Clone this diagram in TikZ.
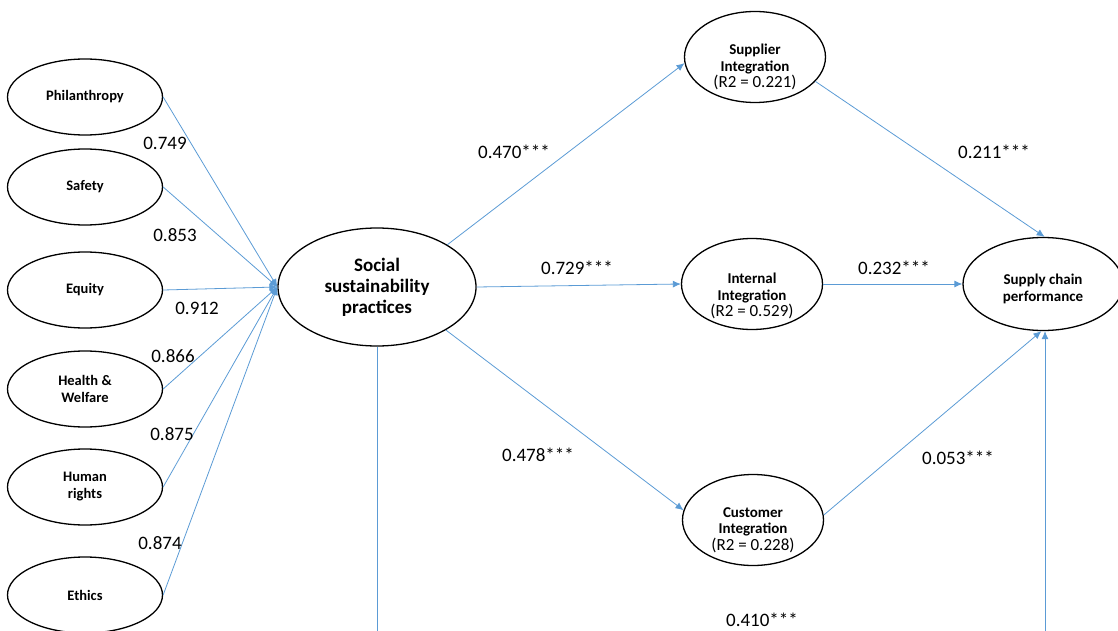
\documentclass[tikz,border=0pt]{standalone}
\usepackage{fontspec}
\setmainfont{Carlito}
\usetikzlibrary{shapes.geometric,arrows.meta}
\definecolor{5b9bd5}{HTML}{5B9BD5}
\begin{document}
\begin{tikzpicture}[x=1pt,y=-1pt,>={Latex[length=8pt,width=7pt]},
    lat/.style={draw,line width=1.3pt,ellipse,inner sep=0,minimum width=155pt,minimum height=76pt,align=center,font=\fontsize{14.5}{17}\selectfont\bfseries},
    med/.style={lat,minimum width=141pt,minimum height=91pt},
    medtext/.style={align=center,inner sep=0,font=\fontsize{15}{16.5}\selectfont\bfseries},
    link/.style={draw=5b9bd5,line width=.8pt},
    coef/.style={font=\fontsize{19}{21}\selectfont}]
    \useasboundingbox(0,0)rectangle(1118,631);
    \newcommand{\rsq}[1]{\\{\mdseries\fontsize{17}{18}\selectfont(R2 = #1)}}
    % first-order constructs
    \node[lat](phil)at(85,97){Philanthropy};
    \node[lat](safe)at(85,187){Safety};
    \node[lat](equi)at(85,290){Equity};
    \node[lat](heal)at(85,389){Health \&\\Welfare};
    \node[lat](huma)at(85,487){Human\\rights};
    \node[lat](ethi)at(85,595){Ethics};
    \node[lat,minimum width=198pt,minimum height=118pt,font=\fontsize{19}{21}\selectfont\bfseries](soc)at(377,287){Social\\sustainability\\practices};
    \node[med](sup)at(755,57){};
    \node[med](int)at(752,284){};
    \node[med](cus)at(753,520){};
    \node[lat,minimum width=160pt,minimum height=93pt](scp)at(1043,284){};
    \node[medtext](supt)at([yshift=-10pt]sup.center){Supplier\\Integration\rsq{0.221}};
    \node[medtext](intt)at([yshift=-12pt]int.center){Internal\\Integration\rsq{0.529}};
    \node[medtext](cust)at([yshift=-10pt]cus.center){Customer\\Integration\rsq{0.228}};
    \node[medtext](scpt)at([yshift=-5pt]scp.center){Supply chain\\performance};
    \coordinate(bl)at(377,631);
    \coordinate(br)at(1045,631);
    % loadings
    \draw[link,->](phil.east)--(soc.west);
    \draw[link,->](safe.east)--(soc.west);
    \draw[link,->](equi.east)--(soc.west);
    \draw[link,->](heal.east)--(soc.west);
    \draw[link,->](huma.east)--(soc.west);
    \draw[link,->](ethi.east)--(soc.west);
    \node[coef](l1)at(165,143){0.749};
    \node[coef](l2)at(175,235){0.853};
    \node[coef](l3)at(197,308){0.912};
    \node[coef](l4)at(173,356){0.866};
    \node[coef](l5)at(172,434){0.875};
    \node[coef](l6)at(160,543){0.874};
    % structural paths
    \draw[link,->](soc.31)--(sup.185);
    \draw[link,->](soc.east)--(int.west);
    \draw[link,->](soc.-32)--(cus.172);
    \draw[link,->](sup.-22)--(scp.88);
    \draw[link,->](int.east)--(scp.west);
    \draw[link,->](cus.4)--(scp.268);
    \draw[link](soc.south)--(bl);
    \draw[link,->](br)--(br|-scp.south);
    \node[coef](p1)at(514,152){0.470***};
    \node[coef](p2)at(577,268){0.729***};
    \node[coef](p3)at(538,455){0.478***};
    \node[coef](p4)at(994,152){0.211***};
    \node[coef](p5)at(894,268){0.232***};
    \node[coef](p6)at(958,458){0.053***};
    \node[coef](p7)at(762,620){0.410***};
\end{tikzpicture}
\end{document}
